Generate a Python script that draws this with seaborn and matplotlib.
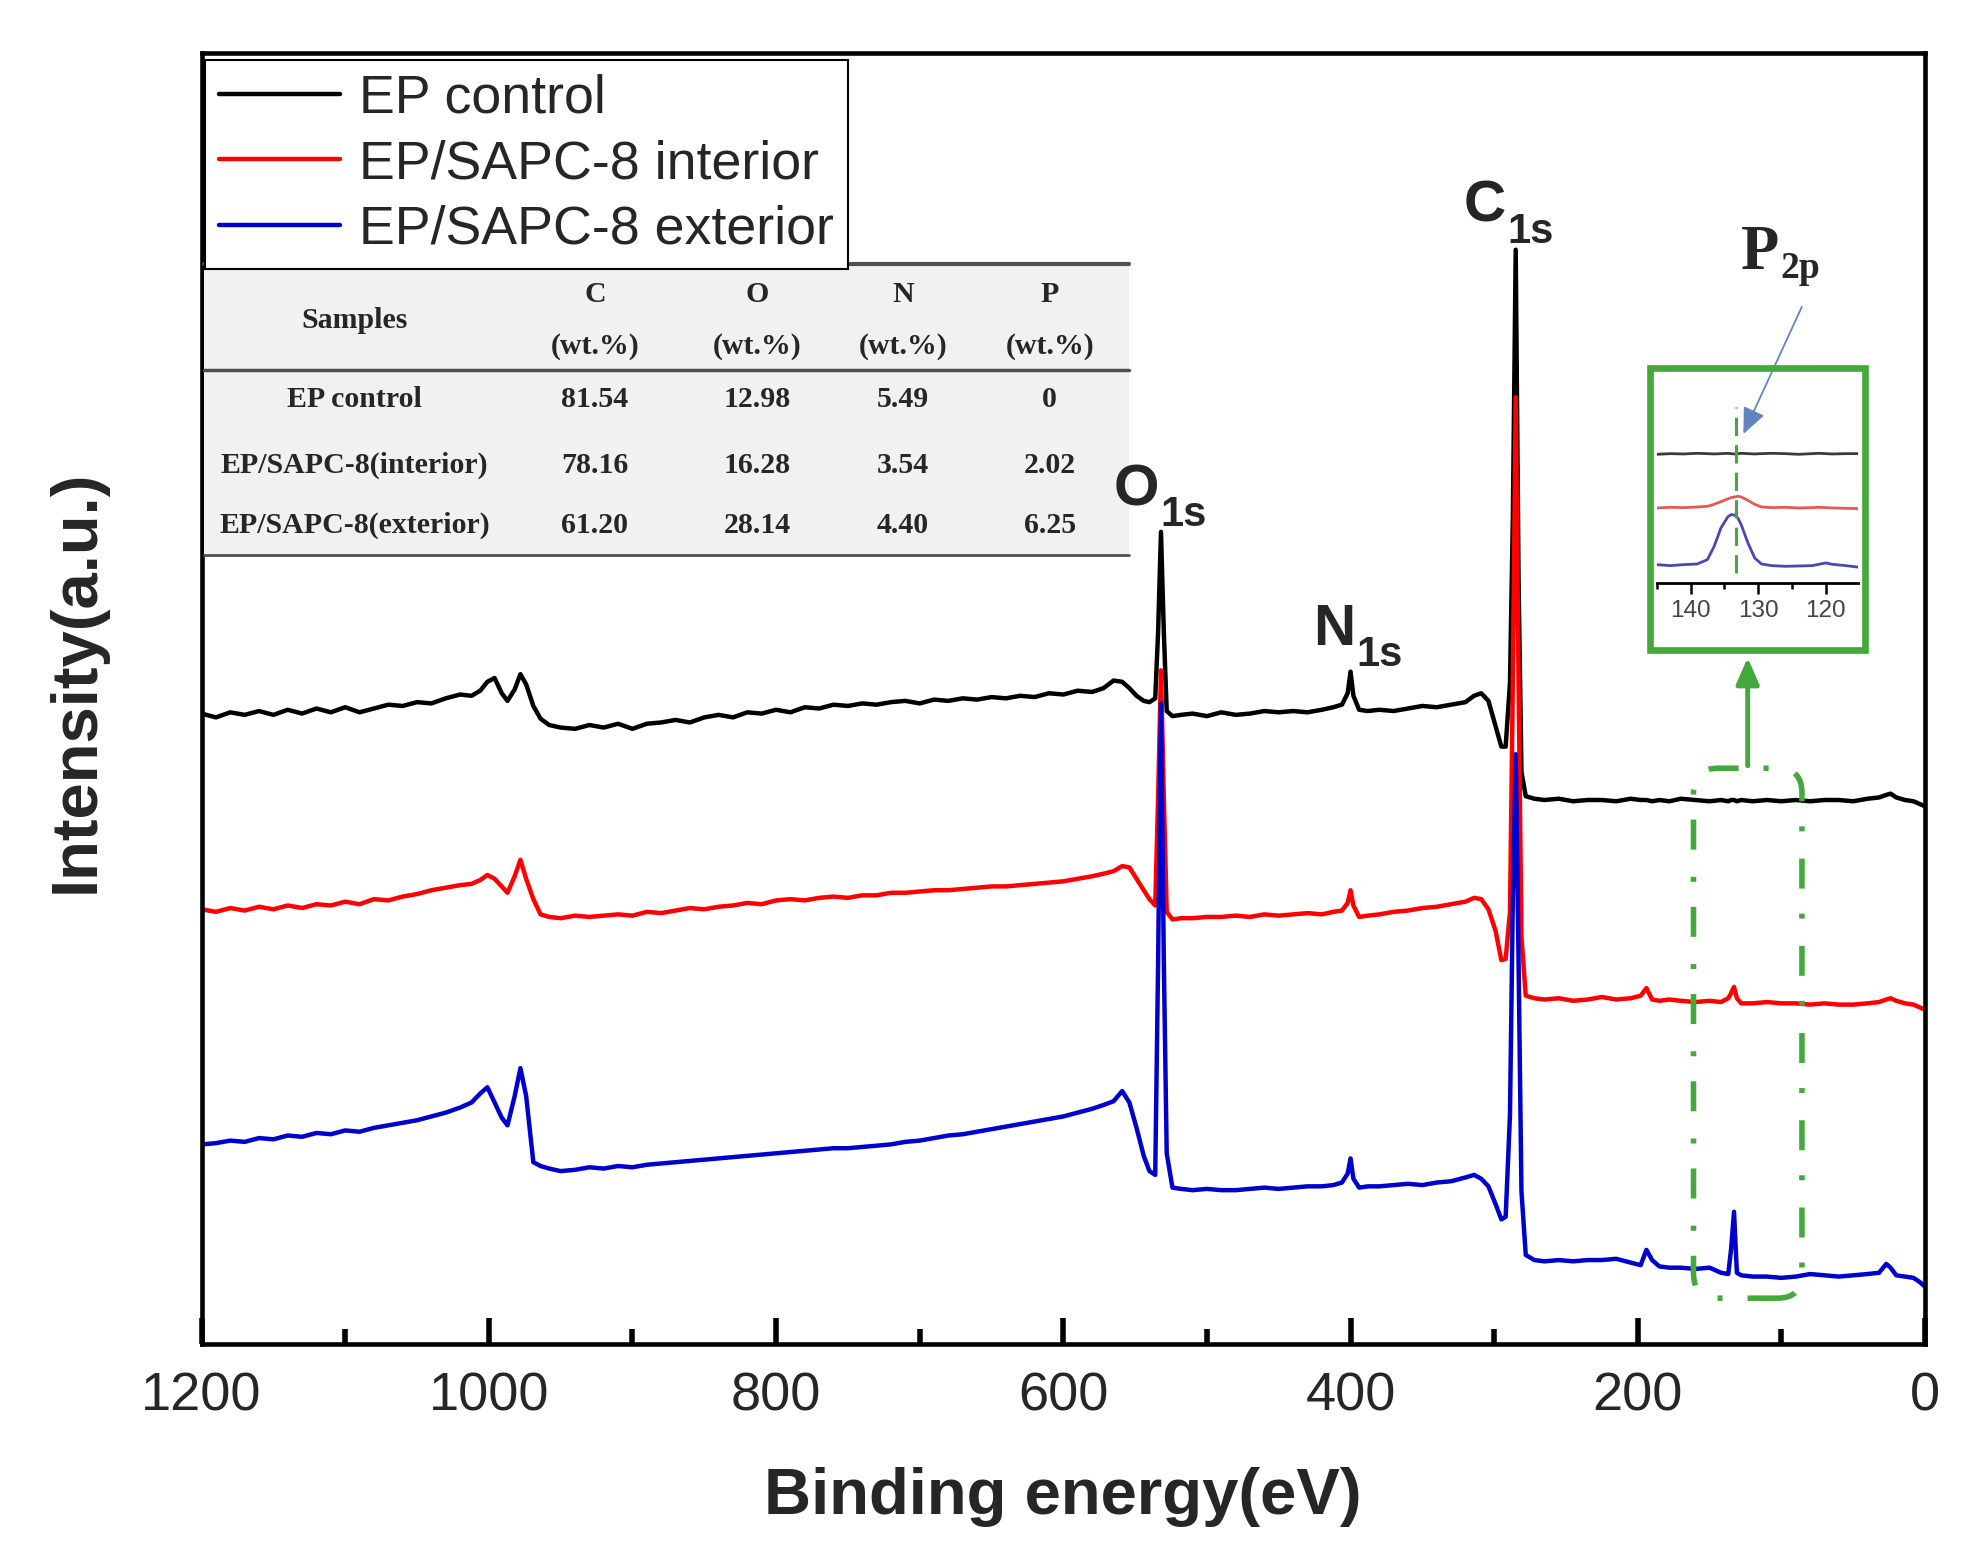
import numpy as np
import pandas as pd
import matplotlib.pyplot as plt
import seaborn as sns
from matplotlib.patches import Rectangle, FancyBboxPatch
from matplotlib.lines import Line2D
from matplotlib.transforms import offset_copy

# ---- survey spectra (binding energy in eV, intensity in a.u., offset stacked) ----
binding_energy = [
    1200, 1190, 1180, 1170, 1160, 1150, 1140, 1130, 1120, 1110,
    1100, 1090, 1080, 1070, 1060, 1050, 1040, 1030, 1020, 1012,
    1006, 1001, 996, 991, 987, 982, 978, 974, 969, 964,
    958, 950, 940, 930, 920, 910, 900, 890, 880, 870,
    860, 850, 840, 830, 820, 810, 800, 790, 780, 770,
    760, 750, 740, 730, 720, 710, 700, 690, 680, 670,
    660, 650, 640, 630, 620, 610, 600, 590, 580, 572,
    565, 559, 554, 549, 544, 540, 536, 534, 532, 530,
    528, 524, 518, 510, 500, 490, 480, 470, 460, 450,
    440, 430, 420, 412, 406, 402, 400, 398, 394, 388,
    380, 370, 360, 350, 340, 330, 320, 314, 309, 304,
    299, 295, 292, 289, 287, 285, 283, 281, 278, 272,
    265, 255, 245, 235, 225, 215, 205, 198, 194, 190,
    185, 178, 170, 160, 150, 142, 137, 135, 133, 131,
    128, 120, 110, 100, 90, 80, 70, 60, 50, 40,
    32, 27, 24, 20, 14, 8, 4, 0,
]

ep_control = [
    496, 493, 497, 495, 498, 495, 499, 496, 500, 497,
    501, 497, 500, 503, 502, 505, 504, 508, 511, 510,
    514, 521, 524, 512, 506, 515, 527, 519, 502, 492,
    487, 485, 484, 487, 485, 488, 484, 488, 489, 491,
    489, 493, 495, 493, 497, 496, 499, 497, 501, 500,
    503, 502, 504, 503, 505, 506, 504, 507, 506, 508,
    507, 509, 508, 510, 509, 512, 511, 514, 513, 516,
    522, 521, 516, 510, 506, 505, 508, 560, 639, 560,
    498, 494, 495, 496, 494, 497, 495, 496, 498, 497,
    498, 497, 499, 501, 503, 512, 529, 510, 499, 498,
    499, 498, 500, 502, 501, 503, 505, 510, 512, 506,
    486, 470, 470, 520, 650, 861, 600, 450, 431, 429,
    428, 429, 427, 428, 428, 427, 429, 428, 428, 427,
    428, 427, 429, 428, 427, 428, 427, 428, 428, 427,
    428, 427, 428, 427, 428, 427, 428, 428, 427, 429,
    430, 432, 433, 430, 428, 427, 425, 423,
]

sapc_interior = [
    342, 340, 343, 341, 344, 342, 345, 343, 346, 345,
    348, 346, 350, 349, 352, 354, 357, 359, 361, 362,
    365, 369, 366, 360, 355, 368, 381, 366, 350, 338,
    336, 335, 337, 336, 337, 338, 337, 340, 339, 341,
    343, 342, 344, 345, 347, 346, 349, 350, 349, 351,
    352, 351, 353, 353, 355, 355, 356, 357, 357, 358,
    359, 360, 360, 361, 362, 363, 364, 366, 368, 370,
    372, 376, 375, 366, 357, 350, 345, 430, 530, 430,
    340, 334, 335, 335, 336, 336, 337, 336, 338, 337,
    338, 339, 338, 340, 341, 347, 357, 345, 336, 337,
    338, 340, 341, 343, 344, 346, 348, 351, 350, 342,
    325, 302, 303, 340, 520, 745, 520, 320, 274, 272,
    271, 272, 270, 271, 273, 271, 272, 274, 280, 271,
    270, 271, 270, 269, 270, 269, 272, 276, 281, 272,
    268, 268, 269, 268, 268, 267, 268, 267, 267, 268,
    269, 271, 272, 270, 268, 267, 265, 263,
]

sapc_exterior = [
    157, 158, 160, 159, 162, 161, 164, 163, 166, 165,
    168, 167, 170, 172, 174, 176, 179, 182, 186, 190,
    197, 202, 190, 178, 172, 195, 217, 195, 143, 140,
    138, 136, 137, 139, 138, 140, 139, 141, 142, 143,
    144, 145, 146, 147, 148, 149, 150, 151, 152, 153,
    154, 154, 155, 156, 157, 159, 160, 162, 164, 165,
    167, 169, 171, 173, 175, 177, 179, 182, 185, 188,
    191, 199, 190, 170, 148, 136, 133, 300, 504, 300,
    150, 123, 122, 121, 122, 121, 121, 122, 123, 122,
    123, 124, 124, 125, 127, 134, 146, 130, 123, 124,
    124, 125, 126, 125, 127, 128, 131, 133, 130, 124,
    110, 98, 100, 180, 350, 464, 300, 120, 70, 66,
    65, 66, 65, 66, 66, 67, 64, 62, 74, 66,
    61, 60, 60, 59, 60, 56, 55, 75, 104, 56,
    54, 53, 53, 52, 53, 55, 54, 53, 54, 55,
    56, 63, 60, 54, 53, 52, 49, 45,
]

sample_names = ["EP control", "EP/SAPC-8 interior", "EP/SAPC-8 exterior"]
sample_colors = ["#000000", "#ff0000", "#0000cc"]

# ---- P2p close-up inset ----
inset_energy = [145, 143, 141, 139, 137.5, 136.5, 135.5, 134.5, 134, 133.5, 133, 132.5,
                131.5, 130.5, 129.5, 128, 126, 124, 122, 121, 120, 119, 117, 115]
inset_control = [386, 388, 387, 389, 388, 387, 388, 389, 388, 387, 388, 389,
                 388, 387, 388, 389, 388, 386, 388, 389, 388, 387, 388, 388]
inset_interior = [225, 227, 226, 228, 230, 236, 244, 252, 256, 258, 260, 258,
                  248, 236, 228, 226, 227, 225, 226, 227, 226, 225, 224, 223]
inset_exterior = [55, 52, 55, 57, 70, 110, 165, 198, 205, 204, 195, 175,
                  120, 75, 57, 52, 50, 51, 52, 56, 60, 56, 52, 47]
inset_colors = ["#3a3a3a", "#e05a5a", "#4848b0"]
p2p_position = 133.3

# ---- composition table ----
table_elements = ["C", "O", "N", "P"]
table_samples = ["EP control", "EP/SAPC-8(interior)", "EP/SAPC-8(exterior)"]
table_values = [
    ["81.54", "12.98", "5.49", "0"],
    ["78.16", "16.28", "3.54", "2.02"],
    ["61.20", "28.14", "4.40", "6.25"],
]

# ---- peak labels: (element, subscript, left-edge energy, baseline intensity) ----
peak_labels = [
    ("O", "1s", 565, 660),
    ("N", "1s", 426, 550),
    ("C", "1s", 321, 883),
]

green = "#45a83c"

df = pd.DataFrame({
    "energy": binding_energy * 3,
    "intensity": ep_control + sapc_interior + sapc_exterior,
    "sample": np.repeat(sample_names, len(binding_energy)),
})
df_in = pd.DataFrame({
    "energy": inset_energy * 3,
    "intensity": inset_control + inset_interior + inset_exterior,
    "sample": np.repeat(sample_names, len(inset_energy)),
})

sns.set_theme(style="white")
plt.rcParams["font.family"] = ["Liberation Sans", "DejaVu Sans"]

fig = plt.figure(figsize=(19.86, 15.6), dpi=100)
ax = fig.add_axes([0.1015, 0.1385, 0.8678, 0.8277])

sns.lineplot(data=df, x="energy", y="intensity", hue="sample",
             palette=sample_colors, hue_order=sample_names,
             estimator=None, sort=False, linewidth=3.2, legend=False, ax=ax)

ax.set_xlim(1200, 0)
ax.set_ylim(0, 1016)
ax.set_xticks(range(0, 1201, 200))
ax.set_xticks(range(100, 1200, 200), minor=True)
ax.set_yticks([])
ax.tick_params(axis="x", which="major", direction="in", length=19, width=4,
               labelsize=39, pad=20, color="black", bottom=True)
ax.tick_params(axis="x", which="minor", direction="in", length=10.5, width=4,
               color="black", bottom=True)
for s in ax.spines.values():
    s.set_color("black")
    s.set_linewidth(3.3)

ax.set_xlabel("Binding energy(eV)", fontsize=47, fontweight="bold")
ax.xaxis.set_label_coords(0.5, -0.095)
ax.set_ylabel("Intensity(a.u.)", fontsize=47, fontweight="bold")
ax.yaxis.set_label_coords(-0.055, 0.513)

# legend
handles = [Line2D([], [], color=c, lw=3.2) for c in sample_colors]
leg = ax.legend(handles, sample_names, loc="upper left", bbox_to_anchor=(0.002, 0.9946),
                fontsize=38.7, frameon=True, fancybox=False, edgecolor="black",
                framealpha=1, borderpad=0.26, handlelength=2.25, handletextpad=0.35,
                labelspacing=0.29, borderaxespad=0)
leg.get_frame().set_linewidth(1.5)

# composition table
tx0, tx1 = 0.0016, 0.5384
ty_top, ty_head, ty_bot = 0.836, 0.7546, 0.611
ax.add_patch(Rectangle((tx0, ty_bot), tx1 - tx0, ty_top - ty_bot, transform=ax.transAxes,
                       facecolor="#f1f1f1", edgecolor="none", zorder=3))
for yy, lw in [(ty_top, 3), (ty_head, 2.5), (ty_bot, 2)]:
    ax.plot([tx0, tx1], [yy, yy], transform=ax.transAxes, color="#505050", lw=lw, zorder=4)
tkw = dict(transform=ax.transAxes, fontfamily="Liberation Serif", fontweight="bold",
           fontsize=21.5, ha="center", va="center", zorder=5)
col_x = [0.2282, 0.3226, 0.4070, 0.4921]
row_y = [0.7316, 0.6801, 0.6340]
ax.text(0.0887, 0.7926, "Samples", **tkw)
for cx, el in zip(col_x, table_elements):
    ax.text(cx, 0.8129, el, **tkw)
    ax.text(cx, 0.7723, "(wt.%)", **tkw)
for ry, name, vals in zip(row_y, table_samples, table_values):
    ax.text(0.0887, ry, name, **tkw)
    for cx, v in zip(col_x, vals):
        ax.text(cx, ry, v, **tkw)


def label_with_subscript(x, y, main, sub, size, sub_size, drop, gap, family):
    t = ax.text(x, y, main, fontsize=size, fontweight="bold", fontfamily=family,
                ha="left", va="baseline", zorder=7)
    fig.canvas.draw()
    w_pt = t.get_window_extent().width * 72 / fig.dpi
    tr = offset_copy(ax.transData, fig=fig, x=w_pt + gap, y=-drop, units="points")
    ax.text(x, y, sub, transform=tr, fontsize=sub_size, fontweight="bold",
            fontfamily=family, ha="left", va="baseline", zorder=7)


for el, sub, xe, yi in peak_labels:
    label_with_subscript(xe, yi, el, sub, 42, 30, 15, 1, "Liberation Sans")
label_with_subscript(128.5, 846, "P", "2p", 45, 27, 7, 1, "Liberation Serif")

# dash-dot rounded box around the P2p region and arrow to inset
ax.add_patch(FancyBboxPatch((85.7, 36), 75.5, 417, boxstyle="round,pad=0,rounding_size=17",
                            mutation_aspect=1.13, fill=False, edgecolor=green, lw=4,
                            linestyle=(0, (5.4, 4.5, 0.9, 4.9)), zorder=6))
ax.annotate("", xy=(123.5, 540), xytext=(123.5, 455),
            arrowprops=dict(arrowstyle="-|>,head_length=0.8,head_width=0.35",
                            color=green, lw=3.5, shrinkA=0, shrinkB=0, mutation_scale=20))
ax.annotate("", xy=(126.5, 716), xytext=(85.8, 816),
            arrowprops=dict(arrowstyle="-|>,head_length=0.8,head_width=0.35",
                            color="#5f86bd", lw=1.3, shrinkA=0, shrinkB=0,
                            mutation_scale=20, facecolor="#1f6fd0"))

# green framed inset
fig.add_artist(Rectangle((0.8308, 0.5833), 0.1083, 0.1808, transform=fig.transFigure,
                         fill=False, edgecolor=green, lw=4.8))
ax_in = fig.add_axes([0.8342, 0.6263, 0.1014, 0.1282])
ax_in.patch.set_alpha(0)
sns.lineplot(data=df_in, x="energy", y="intensity", hue="sample",
             palette=inset_colors, hue_order=sample_names,
             estimator=None, sort=False, linewidth=2, legend=False, ax=ax_in)
ax_in.axvline(p2p_position, ymin=0.05, ymax=0.88, color=green, lw=2.2,
              linestyle=(0, (6, 3)))
ax_in.set_xlim(145, 115.2)
ax_in.set_ylim(0, 600)
ax_in.set_yticks([])
ax_in.set_xticks([140, 130, 120])
ax_in.set_xticks([145, 135, 125], minor=True)
ax_in.set_xlabel("")
ax_in.set_ylabel("")
for side in ["top", "left", "right"]:
    ax_in.spines[side].set_visible(False)
ax_in.spines["bottom"].set_color("black")
ax_in.spines["bottom"].set_linewidth(2)
ax_in.tick_params(axis="x", which="major", direction="out", length=8, width=1.8,
                  labelsize=17.5, labelcolor="#444444", pad=4, color="black", bottom=True)
ax_in.tick_params(axis="x", which="minor", direction="out", length=4, width=1.8,
                  color="black", bottom=True)

fig.savefig("out.png", dpi=100)
